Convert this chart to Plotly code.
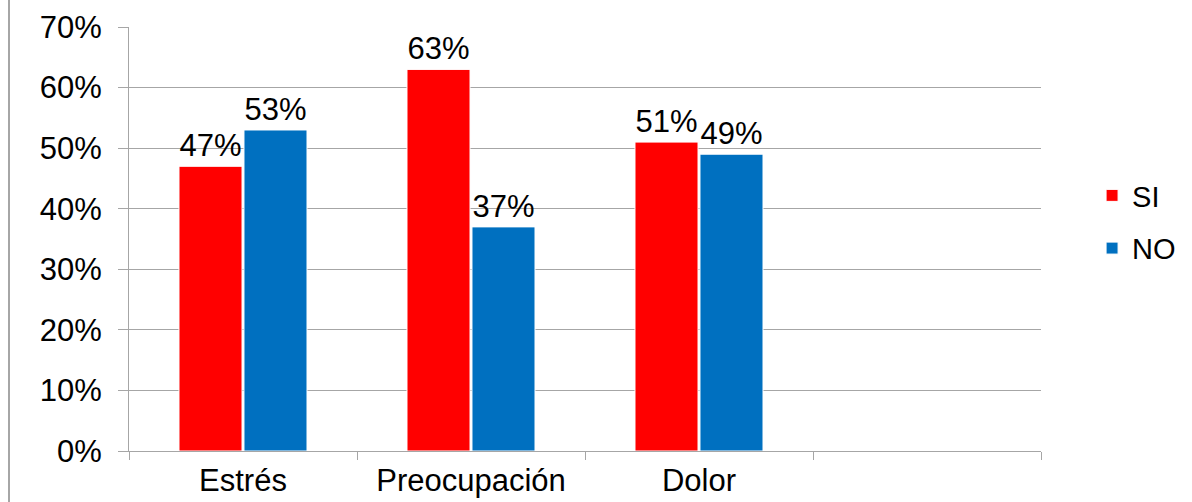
import plotly.graph_objects as go

categories = ["Estrés", "Preocupación", "Dolor", " "]
si_values = [0.47, 0.63, 0.51, None]
no_values = [0.53, 0.37, 0.49, None]
y_ticks = [0, 0.1, 0.2, 0.3, 0.4, 0.5, 0.6, 0.7]

FONT = "Liberation Sans, Arial, sans-serif"
GRAY = "#a6a6a6"


def labels(vals):
    return ["" if v is None else f"{round(v * 100)}%" for v in vals]


fig = go.Figure()
fig.add_trace(go.Bar(
    name="SI", x=categories, y=si_values, text=labels(si_values),
    textposition="outside", marker=dict(color="#FF0000", line=dict(color="white", width=1)),
    textfont=dict(size=31, color="black", family=FONT), legendgroup="a",
))
fig.add_trace(go.Bar(
    name="NO", x=categories, y=no_values, text=labels(no_values),
    textposition="outside", marker=dict(color="#0070C0", line=dict(color="white", width=1)),
    textfont=dict(size=31, color="black", family=FONT), legendgroup="b",
))

fig.update_layout(
    width=1192, height=502,
    margin=dict(l=129, r=151, t=27, b=51, autoexpand=False),
    paper_bgcolor="white", plot_bgcolor="white",
    barmode="group", bargap=0.43, bargroupgap=0.03,
    font=dict(family=FONT, size=31, color="black"),
    showlegend=True,
    legend=dict(x=1.056, xanchor="left", y=0.54, yanchor="middle",
                font=dict(size=29, color="black", family=FONT),
                tracegroupgap=12, traceorder="grouped", itemwidth=30),
    xaxis=dict(
        type="category", categoryorder="array", categoryarray=categories,
        range=[-0.5, 3.5], showgrid=False, showline=True, linecolor=GRAY, linewidth=1,
        ticks="outside", tickson="boundaries", ticklen=8, tickcolor=GRAY,
        tickfont=dict(size=31, family=FONT, color="black"), ticklabelstandoff=2,
        automargin=False,
    ),
    yaxis=dict(
        range=[0, 0.7], tickvals=y_ticks, tickformat=".0%",
        showgrid=True, gridcolor=GRAY, gridwidth=1,
        showline=True, linecolor=GRAY, linewidth=1,
        ticks="outside", ticklen=10, tickcolor=GRAY,
        tickfont=dict(size=31, family=FONT, color="black"), ticklabelstandoff=10,
        zeroline=False, automargin=False,
    ),
)

# outer chart frame line on the left
fig.add_shape(type="line", xref="paper", yref="paper",
              x0=(9 - 129) / 912, x1=(9 - 129) / 912, y0=-51 / 424, y1=1 + 27 / 424,
              line=dict(color=GRAY, width=2))

fig.write_html("out.html")
